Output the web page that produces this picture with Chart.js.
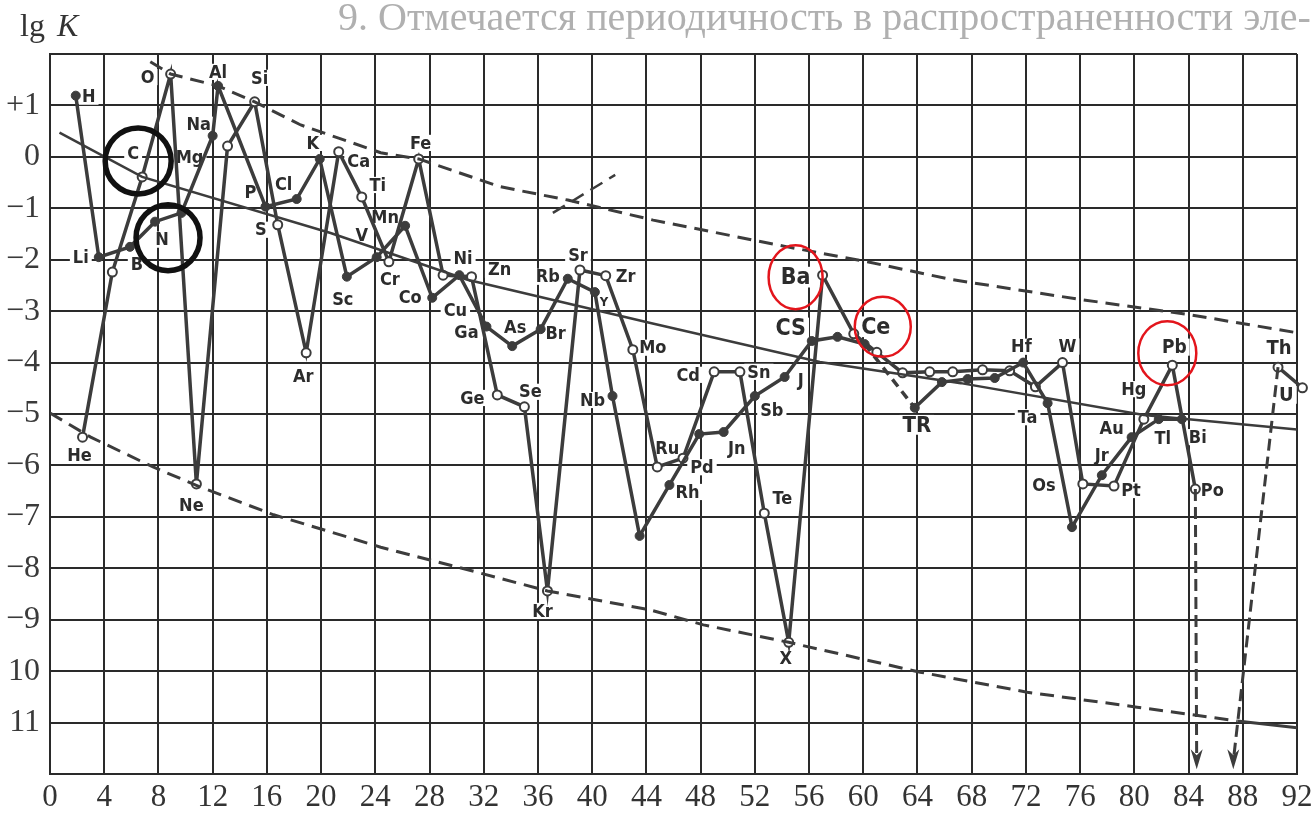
<!DOCTYPE html>
<html>
<head>
<meta charset="utf-8">
<script src="https://cdn.jsdelivr.net/npm/chart.js@4.4.1/dist/chart.umd.min.js"></script>
<style>
  html, body { margin: 0; padding: 0; background: #fff; }
  #grafico { display: block; }
</style>
</head>
<body>
<canvas id="grafico" width="1311" height="815"></canvas>
<script>
// elementos con Z par (circulos blancos)
const elementosPares = ["He","Be","C","O","Ne","Mg","Si","S","Ar","Ca","Ti","Cr","Fe","Ni","Zn","Ge","Se","Kr","Sr","Zr","Mo","Ru","Pd","Cd","Sn","Te","X","Ba","Ce","Nd","Sm","Gd","Dy","Er","Yb","Hf","W","Os","Pt","Hg","Pb","Po"];
const posPares = [2.4,4.6,6.8,8.9,10.8,13.1,15.1,16.8,18.9,21.3,23.0,25.0,27.2,29.0,31.1,33.0,35.0,36.7,39.1,41.0,43.0,44.8,46.7,49.0,50.9,52.7,54.5,57.0,59.3,61.0,62.9,64.9,66.6,68.8,70.8,72.7,74.7,76.2,78.5,80.7,82.8,84.5];
const lgPares = [-5.45,-2.24,-0.39,1.61,-6.36,0.21,1.07,-1.32,-3.81,0.1,-0.78,-2.04,-0.04,-2.3,-2.33,-4.63,-4.86,-8.44,-2.2,-2.31,-3.75,-6.03,-5.86,-4.18,-4.18,-6.93,-9.44,-2.3,-3.44,-3.8,-4.2,-4.18,-4.18,-4.14,-4.16,-4.47,-4.0,-6.36,-6.4,-5.1,-4.05,-6.46];

// elementos con Z impar (puntos negros)
const elementosImpares = ["H","Li","B","N","F","Na","Al","P","Cl","K","Sc","V","Mn","Co","Cu","Ga","As","Br","Rb","Y","Nb","Tc","Rh","Ag","In","Sb","I","Cs","La","Pr","Eu","Tb","Ho","Tm","Lu","Ta","Re","Ir","Au","Tl","Bi"];
const posImpares = [1.9,3.6,5.9,7.75,9.7,12.0,12.4,15.9,18.2,19.9,21.9,24.1,26.2,28.2,30.2,32.2,34.1,36.2,38.2,40.2,41.5,43.5,45.7,47.9,49.7,52.0,54.2,56.2,58.1,60.1,63.8,65.8,67.7,69.7,71.8,73.6,75.4,77.6,79.8,81.8,83.5];
const lgImpares = [1.19,-1.95,-1.75,-1.26,-1.09,0.41,1.38,-0.97,-0.82,-0.04,-2.33,-1.95,-1.34,-2.74,-2.3,-3.3,-3.68,-3.35,-2.37,-2.63,-4.65,-7.37,-6.38,-5.39,-5.35,-4.65,-4.28,-3.58,-3.5,-3.64,-4.88,-4.38,-4.32,-4.3,-4.0,-4.79,-7.2,-6.19,-5.45,-5.1,-5.1];

// Th y U
const elementosActinidos = ["Th","U"];
const posActinidos = [90.6,92.4];
const lgActinidos = [-4.09,-4.49];

// envolvente superior (discontinua)
const envSupX = [7.4,8.9,12.4,15.1,18.5,24.4,27.2,33.2,38.2,44.5,54.4,60.3,66.6,76.2,84.1,92];
const envSupY = [1.85,1.61,1.38,1.07,0.62,0.08,-0.04,-0.58,-0.84,-1.23,-1.75,-2.04,-2.39,-2.78,-3.07,-3.42];
// trazo corto suelto
const trazoX = [37.1,41.7];
const trazoY = [-1.09,-0.35];

// envolvente inferior (discontinua) y su final continuo
const envInfX = [0,3.0,7.6,11.1,16.5,20.3,24.4,31.7,36.7,44.3,48.2,54.5,64.2,72.1,80.2,87.6];
const envInfY = [-4.98,-5.45,-6.03,-6.42,-6.96,-7.26,-7.59,-8.09,-8.44,-8.81,-9.1,-9.44,-10.02,-10.41,-10.7,-10.97];
const finInfX = [87.6,92];
const finInfY = [-10.97,-11.1];

// recta media
const tendX = [0.7,6.8,20.7,30.8,44.3,56.8,67.2,80.7,92];
const tendY = [0.47,-0.39,-1.48,-2.39,-3.23,-3.99,-4.4,-5.02,-5.3];

// flechas hacia abajo (Po y Th)
const flechaPoX = [84.5,84.6];
const flechaPoY = [-6.46,-11.75];
const flechaThX = [90.6,87.3];
const flechaThY = [-4.09,-11.75];

// ejes
const ticksX = [0,4,8,12,16,20,24,28,32,36,40,44,48,52,56,60,64,68,72,76,80,84,88,92];
const ticksYValor = [1,0,-1,-2,-3,-4,-5,-6,-7,-8,-9,-10,-11];
const ticksYTexto = ["+1","0","\u22121","\u22122","\u22123","\u22124","\u22125","\u22126","\u22127","\u22128","\u22129","10","11"];

// etiquetas: simbolo, texto, dx, dy, tamaño
const etiquetas = [
  ["H","H",13,1],["He","He",-3,18],["Li","Li",-18,0],["B","B",7,17],["C","C",-9,-24],
  ["N","N",7,18],["O","O",-23,3],["Ne","Ne",-5,21],["Na","Na",-14,-11],["Mg","Mg",-38,11],
  ["Al","Al",0,-14],["Si","Si",5,-24],["P","P",-15,-14],["S","S",-17,5],["Cl","Cl",-13,-15],
  ["K","K",-7,-16],["Ar","Ar",-3,24],["Ca","Ca",20,10],["Sc","Sc",-4,23],["Ti","Ti",16,-12],
  ["V","V",-15,-22],["Mn","Mn",-20,-8],["Cr","Cr",1,18],["Fe","Fe",2,-16],["Co","Co",-22,0],
  ["Ni","Ni",20,-17],["Cu","Cu",-4,35],["Zn","Zn",28,-7],["Ga","Ga",-20,6],["Ge","Ge",-25,3],
  ["As","As",3,-19],["Se","Se",6,-15],["Br","Br",15,4],["Kr","Kr",-5,20],["Rb","Rb",-20,-2],
  ["Sr","Sr",-2,-15],["Y","Y",9,10,13],["Zr","Zr",20,1],["Nb","Nb",-20,4],["Mo","Mo",20,-2],
  ["Ru","Ru",10,-19],["Rh","Rh",18,7],["Pd","Pd",19,9],["In","Jn",13,16],["Cd","Cd",-26,3],
  ["Sn","Sn",19,0],["Sb","Sb",17,14],["Te","Te",18,-15],["I","J",16,3],["X","X",-3,16],
  ["Cs","CS",-21,-13,23],["Ba","Ba",-27,2,23],["Ce","Ce",22,-7,23],["Eu","TR",2,17,22],
  ["Hf","Hf",-14,-40],["W","W",5,-16],["Ta","Ta",-20,14],["Os","Os",-39,1],["Ir","Jr",0,-20],
  ["Pt","Pt",17,4],["Au","Au",-20,-9],["Hg","Hg",-10,-30],["Tl","Tl",4,19],["Pb","Pb",2,-18,19],
  ["Bi","Bi",16,18],["Po","Po",17,1],["Th","Th",1,-19,20],["U","U",-16,7,20]
];

// circulos de marcado: simbolo, dx, dy, rx, ry, color, grosor
const marcas = [
  ["Ba",-27,2,27,32,"#e3151c",2.5],
  ["Ce",29,-7,28,30,"#e3151c",2.5],
  ["Pb",-5,-12,29,32,"#e3151c",2.5],
  ["C",-4,-16,33,33,"#111",5.5],
  ["N",13,16,32,33,"#111",5.5]
];

const colorLinea = "#3c3c3c";
const fuenteEtiqueta = "'DejaVu Sans Condensed','DejaVu Sans',sans-serif";

function puntos(xs, ys) {
  return xs.map((x, i) => ({ x: x, y: ys[i] }));
}

// busco la posicion de un elemento en cualquiera de las series
function buscarElemento(sim) {
  let i = elementosPares.indexOf(sim);
  if (i >= 0) return [posPares[i], lgPares[i]];
  i = elementosImpares.indexOf(sim);
  if (i >= 0) return [posImpares[i], lgImpares[i]];
  i = elementosActinidos.indexOf(sim);
  if (i >= 0) return [posActinidos[i], lgActinidos[i]];
  return null;
}

const indicePr = elementosImpares.indexOf("Pr");

const pluginDibujos = {
  id: "dibujos",
  beforeDraw(chart) {
    const ctx = chart.ctx;
    ctx.save();
    ctx.fillStyle = "#fff";
    ctx.fillRect(0, 0, chart.width, chart.height);
    // texto de la pagina que se transparenta
    ctx.fillStyle = "#b0b0b0";
    ctx.font = "40px 'Liberation Serif', serif";
    ctx.textBaseline = "middle";
    ctx.fillText("9. Отмечается периодичность в распространенности эле-", 338, 19);
    ctx.restore();
  },
  beforeDatasetsDraw(chart) {
    const ctx = chart.ctx;
    const sx = chart.scales.x, sy = chart.scales.y;
    ctx.save();
    ctx.textAlign = "center";
    ctx.textBaseline = "middle";
    etiquetas.forEach(e => {
      const p = buscarElemento(e[0]);
      if (!p) return;
      const tam = e[4] || 18;
      ctx.font = "bold " + tam + "px " + fuenteEtiqueta;
      const cx = sx.getPixelForValue(p[0]) + e[2];
      const cy = sy.getPixelForValue(p[1]) + e[3];
      const w = ctx.measureText(e[1]).width;
      ctx.fillStyle = "#fff";
      ctx.fillRect(cx - w / 2 - 3, cy - tam * 0.45, w + 6, tam * 0.9);
      ctx.fillStyle = "#2c2c2c";
      ctx.fillText(e[1], cx, cy + 1);
    });
    ctx.restore();
  },
  afterDatasetsDraw(chart) {
    const ctx = chart.ctx;
    const sx = chart.scales.x, sy = chart.scales.y;
    ctx.save();
    // puntas de flecha
    [[flechaPoX, flechaPoY], [flechaThX, flechaThY]].forEach(f => {
      const x = sx.getPixelForValue(f[0][1]);
      const y = sy.getPixelForValue(f[1][1]);
      ctx.fillStyle = colorLinea;
      ctx.beginPath();
      ctx.moveTo(x, y + 8);
      ctx.lineTo(x - 6, y - 12);
      ctx.lineTo(x, y - 6);
      ctx.lineTo(x + 6, y - 12);
      ctx.closePath();
      ctx.fill();
    });
    // circulos de marcado
    marcas.forEach(m => {
      const p = buscarElemento(m[0]);
      const cx = sx.getPixelForValue(p[0]) + m[1];
      const cy = sy.getPixelForValue(p[1]) + m[2];
      ctx.strokeStyle = m[5];
      ctx.lineWidth = m[6];
      ctx.beginPath();
      ctx.ellipse(cx, cy, m[3], m[4], 0, 0, Math.PI * 2);
      ctx.stroke();
    });
    // titulo del eje
    ctx.fillStyle = "#333";
    ctx.textBaseline = "middle";
    ctx.font = "32px 'Liberation Serif', serif";
    ctx.fillText("lg", 20, 28);
    ctx.font = "italic 32px 'Liberation Serif', serif";
    ctx.fillText("K", 57, 28);
    ctx.restore();
  }
};

const serieLinea = (datos, extra) => Object.assign({
  data: datos,
  borderColor: colorLinea,
  borderWidth: 3.5,
  pointRadius: 0,
  fill: false,
  tension: 0
}, extra);

const grafico = new Chart(document.getElementById("grafico"), {
  type: "line",
  data: {
    datasets: [
      serieLinea(puntos(envSupX, envSupY), { borderWidth: 3, borderDash: [14, 8] }),
      serieLinea(puntos(trazoX, trazoY), { borderWidth: 2.5, borderDash: [14, 8] }),
      serieLinea(puntos(envInfX, envInfY), { borderWidth: 3, borderDash: [14, 8] }),
      serieLinea(puntos(finInfX, finInfY), { borderWidth: 3, clip: false }),
      serieLinea(puntos(tendX, tendY), { borderWidth: 2.5 }),
      serieLinea(puntos(flechaPoX, flechaPoY), { borderWidth: 3, borderDash: [12, 6] }),
      serieLinea(puntos(flechaThX, flechaThY), { borderWidth: 3, borderDash: [12, 6] }),
      serieLinea(puntos(posImpares, lgImpares), {
        pointRadius: 4.5,
        pointBackgroundColor: colorLinea,
        pointBorderColor: colorLinea,
        pointBorderWidth: 1,
        segment: {
          borderDash: c => c.p0DataIndex === indicePr ? [9, 6] : undefined
        }
      }),
      serieLinea(puntos(posPares, lgPares), {
        pointRadius: 4.5,
        pointBackgroundColor: "#fff",
        pointBorderColor: colorLinea,
        pointBorderWidth: 2
      }),
      serieLinea(puntos(posActinidos, lgActinidos), {
        pointRadius: 4.5,
        pointBackgroundColor: "#fff",
        pointBorderColor: colorLinea,
        pointBorderWidth: 2,
        clip: false
      })
    ]
  },
  options: {
    responsive: false,
    animation: false,
    devicePixelRatio: 1,
    layout: { padding: { top: 54, right: 14, left: 0, bottom: 0 } },
    plugins: { legend: { display: false }, tooltip: { enabled: false } },
    scales: {
      x: {
        type: "linear",
        min: 0,
        max: 92,
        afterBuildTicks: s => { s.ticks = ticksX.map(v => ({ value: v })); },
        afterFit: s => { s.height = 41; s.paddingLeft = 0; s.paddingRight = 0; },
        ticks: {
          autoSkip: false,
          maxRotation: 0,
          padding: 5,
          color: "#333",
          font: { family: "'Liberation Serif', serif", size: 31 }
        },
        grid: { color: "#2a2a2a", lineWidth: 2, drawTicks: false },
        border: { color: "#2a2a2a", width: 2 }
      },
      y: {
        min: -12,
        max: 2,
        afterBuildTicks: s => {
          const v = [2].concat(ticksYValor, [-12]);
          s.ticks = v.map(t => ({ value: t }));
        },
        afterFit: s => { s.width = 50; s.paddingTop = 0; s.paddingBottom = 0; },
        ticks: {
          padding: 10,
          color: "#3a3a3a",
          font: { family: "'Liberation Serif', serif", size: 32 },
          callback: v => {
            const i = ticksYValor.indexOf(v);
            return i >= 0 ? ticksYTexto[i] : "";
          }
        },
        grid: { color: "#2a2a2a", lineWidth: 2, drawTicks: false },
        border: { color: "#2a2a2a", width: 2 }
      }
    }
  },
  plugins: [pluginDibujos]
});
</script>
</body>
</html>
